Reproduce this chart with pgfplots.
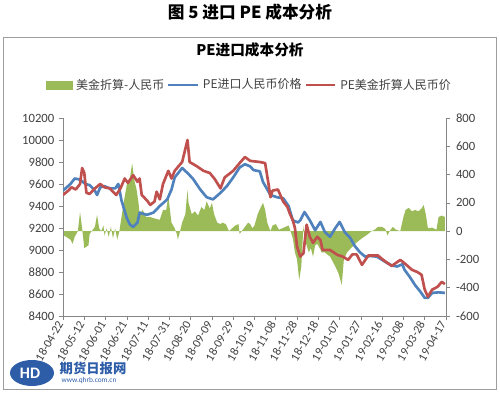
\documentclass[border=0pt]{standalone}
\usepackage{pgfplots}
\usepackage{pgfplotstable}
\pgfplotsset{compat=1.18}
\usepackage{fontspec}
\setmainfont{Carlito}
\newfontfamily\cjk{Noto Sans CJK SC}
\definecolor{gfill}{HTML}{9BBB59}
\definecolor{bline}{HTML}{4F81BD}
\definecolor{rline}{HTML}{C0504D}
\definecolor{axgray}{HTML}{868686}
\definecolor{lblgray}{HTML}{404040}
\definecolor{logoblue}{HTML}{2E5DA8}

\pgfplotstableread{
day val
0 9540
7 9600
11 9650
16 9640
21 9600
25 9590
30 9540
32 9500
35 9570
39 9580
44 9560
49 9560
52 9600
55 9450
60 9290
63 9230
66 9210
70 9250
72 9340
75 9330
79 9320
85 9340
91 9400
98 9460
102 9550
105 9660
112 9745
117 9700
122 9650
129 9550
135 9480
141 9460
148 9520
154 9580
160 9660
166 9750
171 9780
176 9760
179 9727
185 9715
188 9618
195 9500
201 9480
207 9470
212 9400
216 9270
221 9250
223 9270
227 9345
232 9270
237 9180
242 9255
246 9165
251 9120
256 9200
260 9255
265 9160
270 9110
274 9040
279 8980
284 8940
289 8945
295 8940
300 8910
305 8880
309 8860
314 8850
319 8870
321 8820
326 8755
331 8680
336 8620
340 8565
343 8565
347 8610
353 8615
359 8610
}\bluetab

\pgfplotstableread{
day val
0 9500
5 9540
8 9570
12 9550
16 9600
18 9745
20 9700
22 9520
25 9510
30 9560
35 9600
39 9570
44 9560
47 9530
50 9500
54 9560
58 9650
61 9610
66 9680
70 9620
72 9650
74 9500
79 9450
82 9410
86 9440
88 9530
91 9460
94 9600
99 9720
102 9650
105 9720
112 9800
117 10000
119 9800
126 9760
132 9720
138 9700
143 9640
148 9560
152 9660
160 9720
166 9790
171 9845
176 9810
185 9800
190 9790
193 9610
195 9480
197 9540
202 9550
207 9440
211 9390
213 9336
216 9270
218 9200
220 9030
223 8940
226 8970
229 9230
232 9120
235 9065
239 9120
242 9090
244 9000
251 9000
258 8955
263 8940
268 8910
272 8960
276 8960
281 8865
287 8950
296 8950
301 8910
309 8855
317 8910
321 8880
328 8820
333 8800
337 8775
340 8640
343 8575
347 8640
352 8665
356 8710
359 8690
}\redtab

\pgfplotstableread{
day val
0 -30
3 -40
7 -60
9 -90
11 -40
14 0
16 135
18 20
20 -120
22 -110
24 -100
25 -20
27 0
30 30
32 115
34 20
36 0
38 40
39 -30
41 20
43 -40
45 30
47 -50
49 20
51 -60
53 0
55 100
57 200
60 330
63 380
65 480
67 360
69 300
71 200
72 120
75 150
78 100
82 100
86 90
91 80
94 150
97 150
99 250
101 120
102 60
105 20
107 -20
108 -60
110 0
112 60
115 120
117 290
118 200
121 120
124 140
127 110
130 170
133 150
135 210
138 160
140 200
142 120
145 60
148 50
150 60
153 50
156 0
159 20
162 40
165 50
166 -20
168 0
171 30
174 60
176 50
178 20
180 40
183 120
186 170
188 200
190 150
192 60
195 0
197 40
200 50
203 10
206 20
209 30
212 40
213 20
216 -50
218 -150
220 -200
222 -345
224 -250
226 40
227 -50
229 -100
231 -150
233 -120
235 -180
237 -100
239 -90
242 -130
243 -150
246 -150
251 -180
256 -250
259 -300
262 -380
264 -200
267 -150
272 -110
276 -80
281 -50
286 -25
290 0
293 10
296 30
300 30
303 15
305 -30
307 0
310 30
313 10
317 0
320 100
322 150
325 165
328 140
331 150
334 140
337 160
339 185
341 120
343 20
347 25
351 10
353 100
356 110
359 100
}\greentab

\pgfplotsset{
  common/.style={
    scale only axis, width=287.25pt, height=148.5pt,
    at={(47.25pt,57.75pt)}, anchor=south west,
    xmin=0, xmax=360,
    scaled y ticks=false,
    axis line style={axgray},
    tick style={axgray, line width=0.5pt},
    tick align=outside, major tick length=3pt,
    ticklabel style={font=\fontsize{9.5}{11}\selectfont, text=lblgray},
    /pgf/number format/assume math mode=true,
    /pgf/number format/set thousands separator={},
  }
}

\begin{document}
\begin{tikzpicture}
\useasboundingbox (0,0) rectangle (375pt,294.75pt);
\begin{scope}[x=0.75pt,y=-0.75pt,shift={(0pt,294.75pt)}]
\draw[axgray!80, line width=0.7pt] (3,37) rectangle (496,389);
\node[font=\cjk\bfseries\fontsize{12.5}{14}\selectfont] at (250,12) {图 5 进口 PE 成本分析};
\node[font=\cjk\bfseries\fontsize{11}{13}\selectfont] at (250,50) {PE进口成本分析};
\end{scope}

\begin{axis}[common,
  ymin=-600, ymax=800, ytick={-600,-400,...,800},
  axis x line=none, axis y line*=right,
  y tick label style={anchor=west, xshift=1pt},
]
\addplot[fill=gfill, draw=none] table[x=day,y=val]{\greentab} \closedcycle;
\end{axis}

\begin{axis}[common,
  ymin=8400, ymax=10200, ytick={8400,8600,...,10200},
  axis x line*=bottom, axis y line*=left,
  xtick={0,20,...,360},
  xticklabels={18-04-22,18-05-12,18-06-01,18-06-21,18-07-11,18-07-31,18-08-20,18-09-09,18-09-29,18-10-19,18-11-08,18-11-28,18-12-18,19-01-07,19-01-27,19-02-16,19-03-08,19-03-28,19-04-17},
  x tick label style={rotate=60, anchor=east, xshift=1pt, yshift=1pt, font=\fontsize{9}{10}\selectfont},
  legend columns=3,
  legend style={draw=none, fill=none, at={(0.488,1.167)}, anchor=center,
    font=\cjk\fontsize{9}{11}\selectfont, text=lblgray,
    /tikz/every odd column/.append style={column sep=1pt},
    /tikz/every even column/.append style={column sep=0pt},
    inner sep=0pt},
  legend image code/.code={\draw[#1] (0pt,0pt) -- (22pt,0pt);},
]
\addlegendimage{legend image code/.code={\fill[gfill] (0pt,-3pt) rectangle (19pt,3pt);}}
\addlegendentry{美金折算-人民币}
\addplot[bline, line width=2pt, line join=round] table[x=day,y=val]{\bluetab};
\addlegendentry{PE进口人民币价格}
\addplot[rline, line width=2pt, line join=round] table[x=day,y=val]{\redtab};
\addlegendentry{PE美金折算人民币价}
\end{axis}

\begin{scope}[x=0.75pt,y=-0.75pt,shift={(0pt,294.75pt)}]
\fill[logoblue] (32,373) ellipse (22 and 13);
\node[font=\bfseries\fontsize{12}{12}\selectfont, text=white] at (30,373) {HD};
\node[font=\cjk\bfseries\fontsize{10}{10}\selectfont, text=logoblue, anchor=west] at (55,368) {期货日报网};
\node[font=\fontsize{5.5}{6}\selectfont, text=logoblue, anchor=west] at (57,381) {www.qhrb.com.cn};
\end{scope}
\end{tikzpicture}
\end{document}
